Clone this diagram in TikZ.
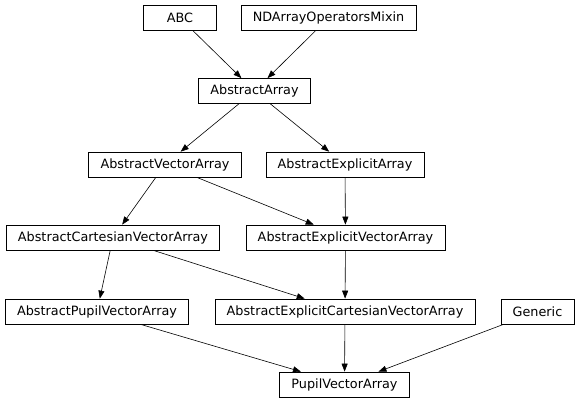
\documentclass[tikz,border=0pt]{standalone}
\usepackage{fontspec}
\setmainfont{DejaVu Sans}
\usetikzlibrary{arrows.meta}

\begin{document}
\begin{tikzpicture}[x=1pt,y=-1pt,
    cls/.style={draw, line width=0.7pt, rectangle, inner xsep=11.75pt, inner ysep=0pt,
      minimum width=73pt, minimum height=25pt, font=\fontsize{12.8}{15}\selectfont},
    inh/.style={-{Triangle[length=8pt,width=6pt]}, line width=0.6pt}]
  \useasboundingbox (0,0) rectangle (579,403);

  \node [cls] (ABC) at (180,18) {ABC};
  \node [cls] (NDArrayOperatorsMixin) at (328.5,18) {NDArrayOperatorsMixin};
  \node [cls] (AbstractArray) at (254.5,91) {AbstractArray};
  \node [cls] (AbstractVectorArray) at (165,164.5) {AbstractVectorArray};
  \node [cls] (AbstractExplicitArray) at (345,164.5) {AbstractExplicitArray};
  \node [cls] (AbstractCartesianVectorArray) at (113,237.5) {AbstractCartesianVectorArray};
  \node [cls] (AbstractExplicitVectorArray) at (345.5,237.5) {AbstractExplicitVectorArray};
  \node [cls] (AbstractPupilVectorArray) at (97,311.5) {AbstractPupilVectorArray};
  \node [cls] (AbstractExplicitCartesianVectorArray) at (345,311.5) {AbstractExplicitCartesianVectorArray};
  \node [cls] (Generic) at (537.5,311.5) {Generic};
  \node [cls] (PupilVectorArray) at (344.5,384.5) {PupilVectorArray};

  \draw [inh] (ABC) -- (AbstractArray);
  \draw [inh] (NDArrayOperatorsMixin) -- (AbstractArray);
  \draw [inh] (AbstractArray) -- (AbstractVectorArray);
  \draw [inh] (AbstractArray) -- (AbstractExplicitArray);
  \draw [inh] (AbstractVectorArray) -- (AbstractCartesianVectorArray);
  \draw [inh] (AbstractVectorArray) -- (AbstractExplicitVectorArray);
  \draw [inh] (AbstractExplicitArray) -- (AbstractExplicitVectorArray);
  \draw [inh] (AbstractCartesianVectorArray) -- (AbstractPupilVectorArray);
  \draw [inh] (AbstractCartesianVectorArray) -- (AbstractExplicitCartesianVectorArray);
  \draw [inh] (AbstractExplicitVectorArray) -- (AbstractExplicitCartesianVectorArray);
  \draw [inh] (AbstractPupilVectorArray) -- (PupilVectorArray);
  \draw [inh] (AbstractExplicitCartesianVectorArray) -- (PupilVectorArray);
  \draw [inh] (Generic) -- (PupilVectorArray);
\end{tikzpicture}
\end{document}
